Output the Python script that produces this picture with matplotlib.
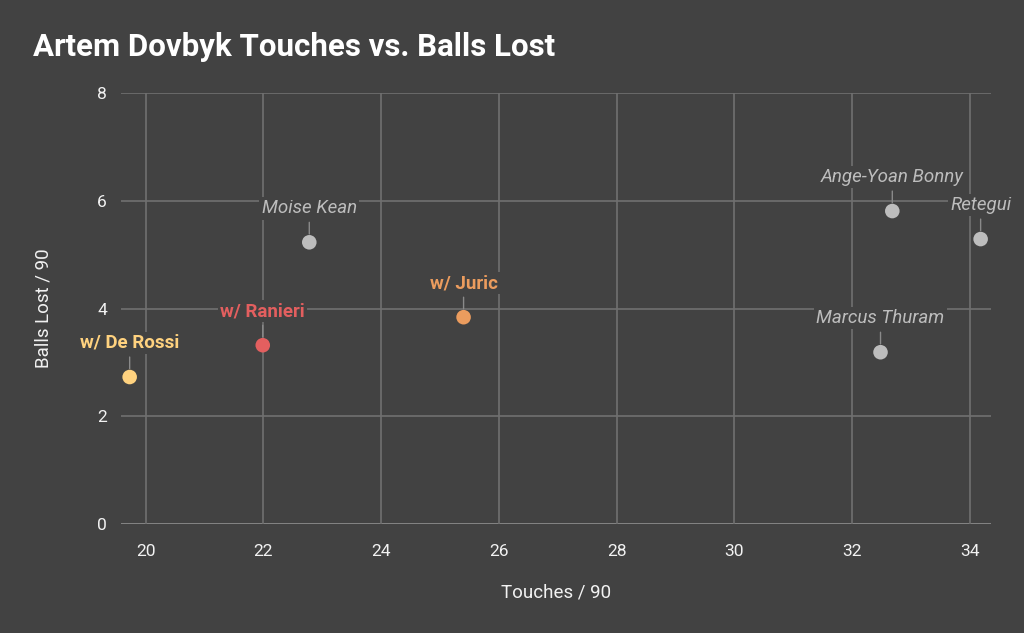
import matplotlib
matplotlib.use("Agg")
import matplotlib.pyplot as plt

plt.rcParams['font.family'] = ['Roboto', 'DejaVu Sans']

labels = ["w/ De Rossi", "w/ Ranieri", "w/ Juric", "Moise Kean", "Ange-Yoan Bonny", "Retegui", "Marcus Thuram"]
touches = [19.73, 21.99, 25.40, 22.78, 32.68, 34.18, 32.48]
balls_lost = [2.73, 3.32, 3.84, 5.23, 5.81, 5.29, 3.19]
colors = ["#FFD27F", "#E35F5F", "#EB9C5E", "#BDBDBD", "#BDBDBD", "#BDBDBD", "#BDBDBD"]
highlight = [True, True, True, False, False, False, False]
xticks = [20, 22, 24, 26, 28, 30, 32, 34]
yticks = [0, 2, 4, 6, 8]

BG = "#424242"
GRID = "#707070"

fig = plt.figure(figsize=(10.24, 6.33), dpi=100, facecolor=BG)
ax = fig.add_axes([0.118, 0.172, 0.850, 0.681])
ax.set_facecolor(BG)

ax.set_xlim(19.58, 34.36)
ax.set_ylim(0, 8)
ax.set_xticks(xticks)
ax.set_yticks(yticks)
ax.grid(True, color=GRID, lw=1.2, zorder=0)
ax.axhline(0, color="#F2F2F2", lw=2, zorder=1)
for s in ax.spines.values():
    s.set_visible(False)
ax.tick_params(axis='both', length=0, colors="#F2F2F2", labelsize=12.5)
ax.tick_params(axis='x', pad=14)
ax.tick_params(axis='y', pad=10)

ax.scatter(touches, balls_lost, s=110, c=colors, zorder=4, linewidths=0)

for lab, x, y, c, h in zip(labels, touches, balls_lost, colors, highlight):
    ax.annotate(lab, xy=(x, y), xytext=(0, 24.5), textcoords='offset points',
                ha='center', va='center', color=c, fontsize=13.5,
                fontweight='bold' if h else 'normal',
                fontstyle='normal' if h else 'italic',
                bbox=dict(boxstyle='square,pad=0.12', fc=BG, ec='none'),
                arrowprops=dict(arrowstyle='-', color="#8A8A8A", lw=1,
                                shrinkA=2, shrinkB=6),
                zorder=5)

ax.set_xlabel("Touches / 90", color="#F2F2F2", fontsize=13.5, labelpad=18)
ax.set_ylabel("Balls Lost / 90", color="#F2F2F2", fontsize=13.5, labelpad=32)

fig.text(0.032, 0.926, "Artem Dovbyk Touches vs. Balls Lost", color="white",
         fontsize=22.5, fontweight='bold', ha='left', va='center')

fig.savefig("out.png", dpi=100, facecolor=BG)
